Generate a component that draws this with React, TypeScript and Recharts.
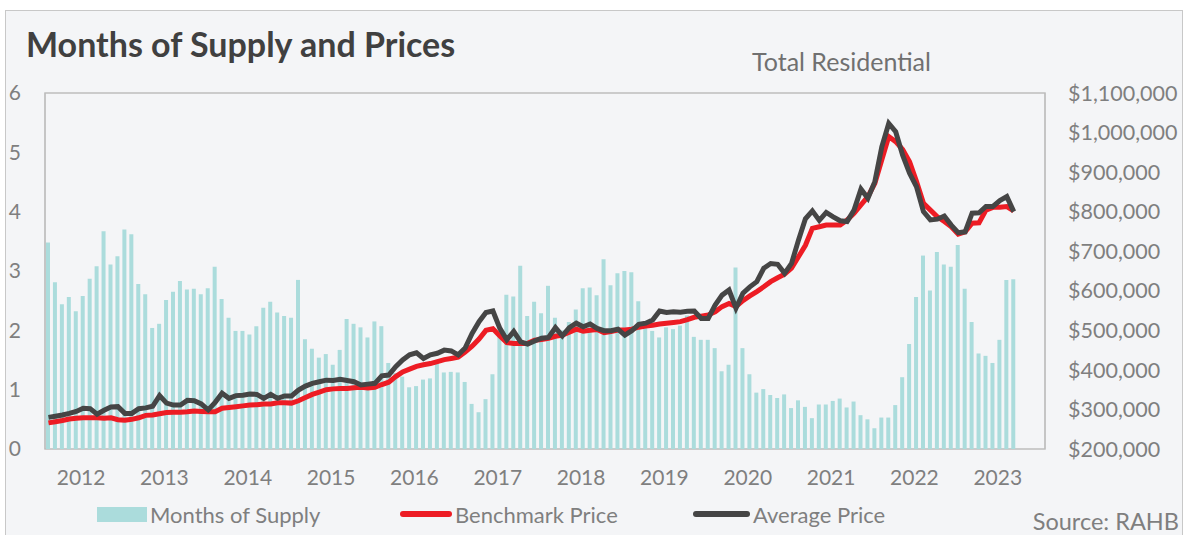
import { ComposedChart, Bar, Line, XAxis, YAxis, CartesianGrid, ReferenceArea } from "recharts";

// monthly, Jan 2012 .. Aug 2023
const supply = [
  3.48, 2.81, 2.44, 2.56, 2.32, 2.58, 2.87, 3.08, 3.67, 3.11, 3.25, 3.7,
  3.62, 2.78, 2.61, 2.04, 2.11, 2.51, 2.65, 2.83, 2.69, 2.7, 2.61, 2.71,
  3.07, 2.53, 2.21, 1.99, 1.99, 1.93, 2.07, 2.38, 2.48, 2.3, 2.24, 2.21,
  2.85, 1.85, 1.69, 1.54, 1.6, 1.42, 1.67, 2.19, 2.11, 2.05, 1.88, 2.15,
  2.07, 1.45, 1.28, 1.22, 1.04, 1.06, 1.17, 1.19, 1.44, 1.29, 1.3, 1.29,
  1.13, 0.76, 0.62, 0.84, 1.26, 1.9, 2.6, 2.57, 3.09, 2.24, 2.48, 2.29,
  2.75, 2.21, 2.0, 2.14, 2.35, 2.71, 2.72, 2.59, 3.2, 2.76, 2.96, 3.0,
  2.98, 2.49, 2.1, 1.99, 1.88, 2.05, 2.02, 2.08, 2.25, 1.89, 1.84, 1.84,
  1.7, 1.31, 1.42, 3.06, 1.7, 1.26, 0.95, 1.01, 0.91, 0.86, 0.92, 0.69,
  0.82, 0.71, 0.52, 0.75, 0.75, 0.81, 0.85, 0.7, 0.8, 0.57, 0.5, 0.35,
  0.53, 0.53, 0.74, 1.21, 1.77, 2.56, 3.26, 2.67, 3.32, 3.11, 3.07, 3.44,
  2.7, 2.14, 1.61, 1.57, 1.45, 1.84, 2.85, 2.86,
];

// $ thousands
const benchmark = [
  266, 269, 272, 276, 278, 279, 279, 279, 278, 279, 274, 273,
  275, 279, 285, 286, 289, 292, 293, 293, 294, 296, 295, 294,
  294, 303, 305, 307, 309, 311, 312, 314, 314, 317, 317, 316,
  322, 330, 338, 344, 350, 352, 353, 353, 355, 356, 354, 356,
  363, 369, 383, 395, 402, 409, 413, 416, 421, 426, 429, 432,
  445, 460, 478, 500, 504, 486, 469, 467, 467, 467, 475, 477,
  480, 485, 488, 495, 503, 498, 500, 502, 494, 497, 501, 501,
  503, 508, 511, 513, 516, 518, 520, 522, 527, 533, 536, 539,
  547, 560, 568, 560, 575, 587, 598, 610, 623, 633, 642, 657,
  686, 715, 758, 762, 766, 766, 766, 779, 796, 817, 838, 872,
  931, 990, 977, 957, 926, 876, 821, 804, 787, 775, 762, 743,
  749, 771, 772, 804, 811, 811, 813, 802,
];

const average = [
  280, 283, 286, 290, 295, 303, 302, 288, 298, 306, 307, 290,
  290, 302, 304, 308, 335, 316, 311, 311, 323, 322, 314, 299,
  318, 341, 328, 335, 336, 339, 338, 328, 338, 328, 334, 334,
  349, 359, 366, 370, 374, 373, 376, 373, 370, 362, 364, 366,
  385, 387, 408, 425, 438, 443, 429, 438, 442, 450, 448, 438,
  455, 492, 522, 545, 549, 505, 476, 497, 471, 465, 473, 480,
  482, 507, 486, 507, 518, 509, 516, 505, 499, 499, 503, 488,
  499, 515, 518, 526, 549, 545, 547, 546, 548, 549, 530, 530,
  564, 589, 602, 556, 594, 610, 623, 657, 669, 667, 644, 669,
  728, 782, 802, 778, 798, 787, 777, 775, 804, 857, 834, 876,
  964, 1023, 1002, 943, 897, 863, 800, 779, 781, 789, 766, 747,
  749, 796, 797, 813, 813, 828, 838, 800,
];

const years = ["2012", "2013", "2014", "2015", "2016", "2017", "2018", "2019", "2020", "2021", "2022", "2023"];
const supplyTicks = [0, 1, 2, 3, 4, 5, 6];
const priceTicks = [200000, 300000, 400000, 500000, 600000, 700000, 800000, 900000, 1000000, 1100000];

const data = supply.map((s, i) => ({
  m: i + 0.5,
  supply: s,
  benchmark: benchmark[i] * 1000,
  average: average[i] * 1000,
}));

const yearEdges = [...years.map((_, k) => k * 12), years.length * 12];
const yearLabels = years.map((_, k) => k * 12 + 5.2);

const FONT = "Lato, 'Open Sans', sans-serif";
const GREY = "#7f7f7f";
const tickStyle = { fill: GREY, fontSize: 21, fontFamily: FONT };
const priceTickStyle = { fill: GREY, fontSize: 21.5, fontFamily: FONT };

export default function App() {
  return (
    <div style={{ position: "absolute", left: 0, top: 0, width: 1186, height: 535, background: "#fff", overflow: "hidden", fontFamily: FONT }}>
      <div style={{ position: "absolute", left: 5, top: 10, width: 1176, height: 540, border: "1px solid #c8c8c8", background: "#f4f5f7" }} />
      <div style={{ position: "absolute", left: 26, top: 23, fontSize: 34, lineHeight: "normal", fontWeight: 700, color: "#404040" }}>
        Months of Supply and Prices
      </div>
      <div style={{ position: "absolute", left: 752, top: 46, fontSize: 25, color: "#707070" }}>Total Residential</div>

      <div style={{ position: "absolute", left: 0, top: 0 }}>
        <ComposedChart width={1186} height={535} data={data} margin={{ top: 93, right: 0, bottom: 36, left: 0 }}>
          <CartesianGrid xAxisId="grid" yAxisId="left" horizontal={false} stroke="#d6d6d6" strokeWidth={1.5} />
          <XAxis
            xAxisId="grid"
            type="number"
            dataKey="m"
            domain={[0, 144]}
            ticks={yearEdges}
            tick={false}
            tickLine={false}
            axisLine={false}
            height={0}
          />
          <XAxis
            xAxisId="year"
            type="number"
            dataKey="m"
            domain={[0, 144]}
            ticks={yearLabels}
            tickFormatter={(v) => years[Math.floor(v / 12)]}
            tick={tickStyle}
            tickLine={false}
            tickSize={0}
            tickMargin={21}
            axisLine={false}
            height={50}
          />
          <YAxis
            yAxisId="left"
            domain={[0, 6]}
            ticks={supplyTicks}
            tick={tickStyle}
            tickLine={false}
            tickSize={0}
            tickMargin={24}
            axisLine={false}
            width={45}
          />
          <YAxis
            yAxisId="right"
            orientation="right"
            domain={[200000, 1100000]}
            ticks={priceTicks}
            tickFormatter={(v) => "$" + v.toLocaleString("en-US")}
            tick={priceTickStyle}
            tickLine={false}
            tickSize={0}
            tickMargin={23}
            axisLine={false}
            width={141}
          />
          <Bar xAxisId="grid" yAxisId="left" dataKey="supply" fill="#abdcdc" barSize={4} isAnimationActive={false} />
          <Line xAxisId="grid" yAxisId="right" dataKey="benchmark" stroke="#ed1c24" strokeWidth={5} dot={false} isAnimationActive={false} />
          <Line xAxisId="grid" yAxisId="right" dataKey="average" stroke="#454545" strokeWidth={5} dot={false} isAnimationActive={false} />
          <ReferenceArea xAxisId="grid" yAxisId="left" x1={0} x2={144} y1={0} y2={6} fill="none" stroke="#bdbdbd" strokeWidth={1.5} />
        </ComposedChart>
      </div>

      <div style={{ position: "absolute", left: 97, top: 500, height: 28, display: "flex", alignItems: "center", fontSize: 22, color: GREY }}>
        <span style={{ width: 50, height: 15, background: "#abdcdc", marginRight: 3 }} />
        <span>Months of Supply</span>
      </div>
      <div style={{ position: "absolute", left: 400, top: 500, height: 28, display: "flex", alignItems: "center", fontSize: 22, color: GREY }}>
        <span style={{ width: 52, height: 6, borderRadius: 3, background: "#ed1c24", marginRight: 3 }} />
        <span>Benchmark Price</span>
      </div>
      <div style={{ position: "absolute", left: 693, top: 500, height: 28, display: "flex", alignItems: "center", fontSize: 22, color: GREY }}>
        <span style={{ width: 57, height: 6, borderRadius: 3, background: "#454545", marginRight: 3 }} />
        <span>Average Price</span>
      </div>
      <div style={{ position: "absolute", right: 7, top: 507, fontSize: 23.5, color: GREY }}>Source: RAHB</div>
    </div>
  );
}
